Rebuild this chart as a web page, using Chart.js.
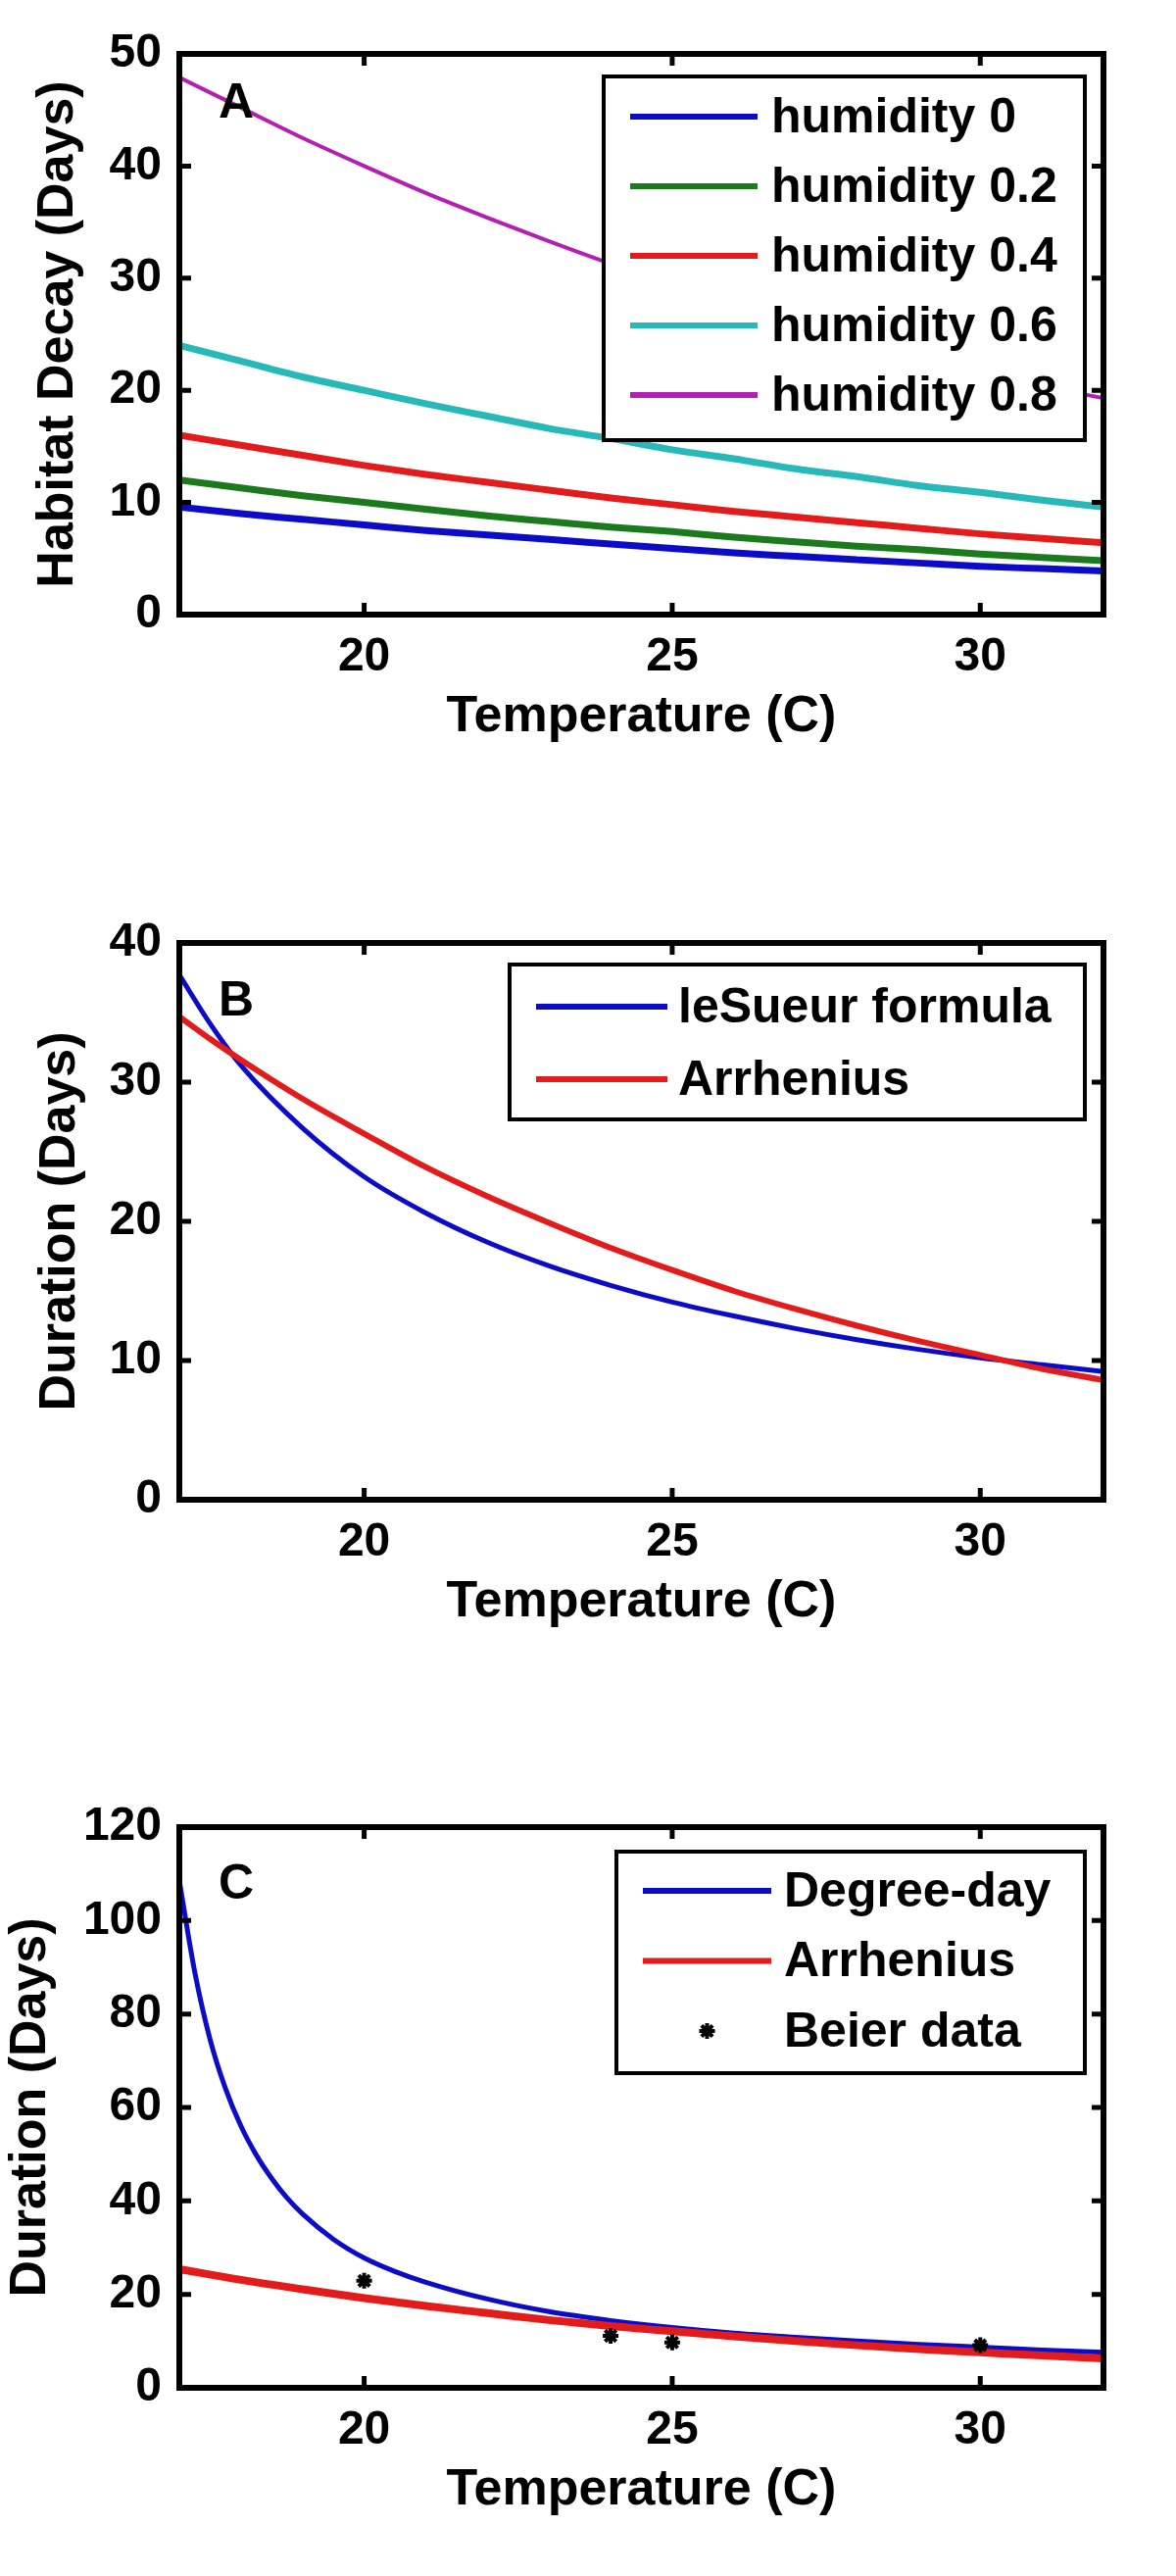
<!DOCTYPE html>
<html>
<head>
<meta charset="utf-8">
<script src="https://cdn.jsdelivr.net/npm/chart.js@4.4.1/dist/chart.umd.min.js"></script>
<style>
  body { margin: 0; background: #fff; }
  #wrap { position: relative; width: 1200px; height: 2628px; background: #fff; }
  canvas { position: absolute; left: 0; }
</style>
</head>
<body>
<div id="wrap">
  <canvas id="chartA" width="1200" height="876" style="top:0px"></canvas>
  <canvas id="chartB" width="1200" height="876" style="top:876px"></canvas>
  <canvas id="chartC" width="1200" height="876" style="top:1752px"></canvas>
</div>
<script>
// ---- data ----
// panel A: habitat decay vs temperature, one curve per humidity
const tempsA = [17, 18, 19, 20, 21, 22, 23, 24, 25, 26, 27, 28, 29, 30, 31, 32];
const humidity0  = [9.6, 9.0, 8.5, 8.0, 7.5, 7.1, 6.7, 6.3, 5.9, 5.5, 5.2, 4.9, 4.6, 4.3, 4.1, 3.9];
const humidity02 = [12.0, 11.3, 10.6, 10.0, 9.4, 8.8, 8.3, 7.8, 7.4, 6.9, 6.5, 6.1, 5.8, 5.4, 5.1, 4.8];
const humidity04 = [16.0, 15.1, 14.2, 13.3, 12.5, 11.8, 11.1, 10.4, 9.8, 9.2, 8.7, 8.2, 7.7, 7.2, 6.8, 6.4];
const humidity06 = [24.0, 22.6, 21.2, 20.0, 18.8, 17.7, 16.6, 15.7, 14.7, 13.9, 13.0, 12.3, 11.5, 10.9, 10.2, 9.6];
const humidity08 = [47.9, 45.2, 42.5, 40.0, 37.6, 35.4, 33.3, 31.3, 29.5, 27.7, 26.1, 24.5, 23.1, 21.7, 20.4, 19.3];

// panel B: duration, leSueur formula vs Arrhenius
const tempsB = [17, 17.5, 18, 19, 20, 21, 22, 23, 24, 25, 26, 27, 28, 29, 30, 31, 32];
const lesueurB   = [37.7, 34.2, 31.2, 26.7, 23.2, 20.6, 18.5, 16.8, 15.4, 14.2, 13.2, 12.3, 11.5, 10.8, 10.2, 9.7, 9.2];
const arrheniusB = [34.7, 33.1, 31.6, 28.8, 26.3, 23.9, 21.8, 19.9, 18.1, 16.5, 15.0, 13.7, 12.5, 11.4, 10.4, 9.4, 8.6];

// panel C: degree-day vs Arrhenius, plus Beier data points
const tempsDD = [17, 17.25, 17.5, 17.75, 18, 18.25, 18.5, 18.75, 19, 19.5, 20, 20.5, 21, 22, 23, 24, 25, 26, 27, 28, 29, 30, 31, 32];
const degreeDay = [108.5, 89, 74.5, 64, 56, 49.8, 44.8, 40.6, 37.2, 31.8, 27.8, 24.9, 22.6, 19.0, 16.3, 14.4, 12.9, 11.7, 10.8, 10.0, 9.3, 8.7, 8.1, 7.6];
const tempsArrC = [17, 18, 19, 20, 21, 22, 23, 24, 25, 26, 27, 28, 29, 30, 31, 32];
const arrheniusC = [25.4, 23.1, 21.1, 19.2, 17.5, 16.0, 14.5, 13.2, 12.1, 11.0, 10.0, 9.1, 8.3, 7.6, 6.9, 6.3];
const beierTemps = [20, 24, 25, 30];
const beierDays  = [22.9, 11.1, 9.7, 9.1];

const xTicks = [20, 25, 30];

// ---- styling ----
const FONT = '"Liberation Sans", Arial, Helvetica, sans-serif';
const BLUE = '#0c0cc8', GREEN = '#1b7a1b', RED = '#e41b1b', CYAN = '#27b9b9', MAGENTA = '#b21fb2';

Chart.defaults.color = '#000';
Chart.defaults.font.family = FONT;

const pts = (xs, ys) => xs.map((t, i) => ({x: t, y: ys[i]}));

function lineSet(label, xs, ys, color, width, order) {
  return {
    label: label,
    data: pts(xs, ys),
    borderColor: color,
    backgroundColor: color,
    borderWidth: width,
    pointRadius: 0,
    cubicInterpolationMode: 'monotone',
    fill: false,
    order: order
  };
}

// frame, inward ticks, panel letter and legend box (legend must sit on top of the lines)
const panelPlugin = {
  id: 'panel',
  afterDatasetsDraw(chart, args, opts) {
    const {ctx, chartArea: a} = chart;
    const xs = chart.scales.x, ys = chart.scales.y;
    const TL = 12;
    ctx.save();
    ctx.strokeStyle = '#000';
    ctx.lineWidth = 5;
    ctx.beginPath();
    xs.ticks.forEach(t => {
      const px = xs.getPixelForValue(t.value);
      ctx.moveTo(px, a.bottom); ctx.lineTo(px, a.bottom - TL);
      ctx.moveTo(px, a.top); ctx.lineTo(px, a.top + TL);
    });
    ys.ticks.forEach(t => {
      const py = ys.getPixelForValue(t.value);
      ctx.moveTo(a.left, py); ctx.lineTo(a.left + TL, py);
      ctx.moveTo(a.right, py); ctx.lineTo(a.right - TL, py);
    });
    ctx.stroke();
    ctx.lineWidth = 6;
    ctx.strokeRect(a.left, a.top, a.right - a.left, a.bottom - a.top);

    // panel letter
    ctx.fillStyle = '#000';
    ctx.font = 'bold 50px ' + FONT;
    ctx.textAlign = 'center';
    ctx.textBaseline = 'middle';
    ctx.fillText(opts.letter, opts.letterX, opts.letterY);

    // legend
    const lg = opts.legend;
    ctx.fillStyle = '#fff';
    ctx.fillRect(lg.left, lg.top, lg.right - lg.left, lg.bottom - lg.top);
    ctx.lineWidth = 4;
    ctx.strokeStyle = '#000';
    ctx.strokeRect(lg.left, lg.top, lg.right - lg.left, lg.bottom - lg.top);
    ctx.textAlign = 'left';
    ctx.font = 'bold 50px ' + FONT;
    chart.data.datasets.forEach((ds, i) => {
      const yy = lg.firstRow + i * lg.rowGap;
      if (ds.showLine === false) {
        ctx.strokeStyle = ds.borderColor;
        ctx.fillStyle = ds.backgroundColor;
        ctx.lineWidth = ds.borderWidth;
        Chart.helpers.drawPoint(ctx, {
          pointStyle: ds.pointStyle, radius: ds.pointRadius, borderWidth: ds.borderWidth, rotation: 0
        }, (lg.lineX0 + lg.lineX1) / 2, yy);
      } else {
        ctx.strokeStyle = ds.borderColor;
        ctx.lineWidth = 6;
        ctx.beginPath();
        ctx.moveTo(lg.lineX0, yy);
        ctx.lineTo(lg.lineX1, yy);
        ctx.stroke();
      }
      ctx.fillStyle = '#000';
      ctx.fillText(ds.label, lg.textX, yy + 2);
    });
    ctx.restore();
  }
};

function makeOptions(p) {
  return {
    responsive: false,
    animation: false,
    devicePixelRatio: 1,
    layout: { padding: { top: p.top, bottom: p.bottom, left: 0, right: 74 } },
    plugins: {
      legend: { display: false },
      tooltip: { enabled: false },
      panel: p.panel
    },
    scales: {
      x: {
        type: 'linear',
        min: 17, max: 32,
        border: { display: false },
        grid: { display: false, drawTicks: false },
        afterBuildTicks: s => { s.ticks = xTicks.map(v => ({value: v})); },
        ticks: { padding: 15, font: { size: 48, weight: 'bold' }, maxRotation: 0 },
        title: { display: true, text: 'Temperature (C)', padding: 0, font: { size: 52, weight: 'bold' } },
        afterFit: s => { s.height = 136; }
      },
      y: {
        min: 0, max: p.yMax,
        border: { display: false },
        grid: { display: false, drawTicks: false },
        ticks: { stepSize: p.yStep, padding: 18, font: { size: 48, weight: 'bold' } },
        title: { display: true, text: p.yTitle, padding: { top: p.titlePad, bottom: 0 }, font: { size: 52, weight: 'bold' } },
        afterFit: s => { s.width = 183; }
      }
    }
  };
}

// ---- panel A ----
new Chart(document.getElementById('chartA'), {
  type: 'line',
  data: {
    datasets: [
      lineSet('humidity 0', tempsA, humidity0, BLUE, 7, 1),
      lineSet('humidity 0.2', tempsA, humidity02, GREEN, 7, 2),
      lineSet('humidity 0.4', tempsA, humidity04, RED, 7, 3),
      lineSet('humidity 0.6', tempsA, humidity06, CYAN, 7, 4),
      lineSet('humidity 0.8', tempsA, humidity08, MAGENTA, 4, 5)
    ]
  },
  options: makeOptions({
    top: 55, bottom: 876 - 627 - 136, yMax: 50, yStep: 10,
    yTitle: 'Habitat Decay (Days)', titlePad: 28,
    panel: {
      letter: 'A', letterX: 241, letterY: 106,
      legend: { left: 616, top: 78, right: 1107, bottom: 449, firstRow: 119, rowGap: 71,
                lineX0: 643, lineX1: 773, textX: 787 }
    }
  }),
  plugins: [panelPlugin]
});

// ---- panel B ----
new Chart(document.getElementById('chartB'), {
  type: 'line',
  data: {
    datasets: [
      lineSet('leSueur formula', tempsB, lesueurB, BLUE, 5, 2),
      lineSet('Arrhenius', tempsB, arrheniusB, RED, 6, 1)
    ]
  },
  options: makeOptions({
    top: 962 - 876, bottom: 876 - (1530 - 876) - 136, yMax: 40, yStep: 10,
    yTitle: 'Duration (Days)', titlePad: 30,
    panel: {
      letter: 'B', letterX: 241, letterY: 146,
      legend: { left: 520, top: 108, right: 1107, bottom: 266, firstRow: 151, rowGap: 74,
                lineX0: 547, lineX1: 681, textX: 692 }
    }
  }),
  plugins: [panelPlugin]
});

// ---- panel C ----
new Chart(document.getElementById('chartC'), {
  type: 'line',
  data: {
    datasets: [
      lineSet('Degree-day', tempsDD, degreeDay, BLUE, 5, 2),
      lineSet('Arrhenius', tempsArrC, arrheniusC, RED, 8, 1),
      {
        label: 'Beier data',
        data: pts(beierTemps, beierDays),
        showLine: false,
        pointStyle: 'star',
        pointRadius: 8,
        borderWidth: 4,
        borderColor: '#000',
        backgroundColor: '#000',
        order: 0
      }
    ]
  },
  options: makeOptions({
    top: 1864 - 1752, bottom: 876 - (2436 - 1752) - 136, yMax: 120, yStep: 20,
    yTitle: 'Duration (Days)', titlePad: 0,
    panel: {
      letter: 'C', letterX: 241, letterY: 171,
      legend: { left: 629, top: 137, right: 1107, bottom: 363, firstRow: 177, rowGap: 71.5,
                lineX0: 656, lineX1: 787, textX: 800 }
    }
  }),
  plugins: [panelPlugin]
});
</script>
</body>
</html>
